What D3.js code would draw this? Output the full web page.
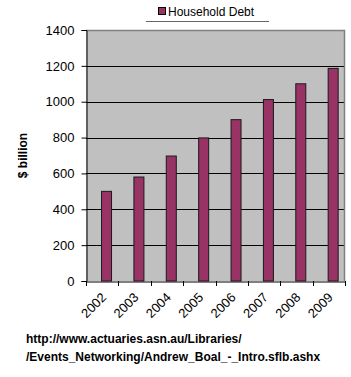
<!DOCTYPE html>
<html>
<head>
<meta charset="utf-8">
<script src="https://cdn.jsdelivr.net/npm/d3@7"></script>
<style>
  body { margin: 0; background: #fff; }
  svg { display: block; font-family: "Liberation Sans", Arial, sans-serif; }
</style>
</head>
<body>
<div id="chart"></div>
<script>
const years = ["2002", "2003", "2004", "2005", "2006", "2007", "2008", "2009"];
const householdDebt = [500, 580, 697, 798, 900, 1012, 1100, 1186];
const yTicks = [0, 200, 400, 600, 800, 1000, 1200, 1400];
const seriesName = "Household Debt";
const sourceLines = [
    "http://www.actuaries.asn.au/Libraries/",
    "/Events_Networking/Andrew_Boal_-_Intro.sflb.ashx"
];

const width = 351, height = 377;
const margin = { top: 30, right: 6, bottom: 96, left: 86 };

const svg = d3.select('#chart').append('svg')
    .attr('width', width)
    .attr('height', height);

const x = d3.scaleBand()
    .domain(years)
    .range([margin.left, width - margin.right]);

const y = d3.scaleLinear()
    .domain([0, 1400])
    .range([height - margin.bottom, margin.top]);

// fond gris de la zone de tracé
svg.append('rect')
    .attr('x', margin.left)
    .attr('y', margin.top)
    .attr('width', width - margin.right - margin.left)
    .attr('height', y(0) - margin.top)
    .attr('fill', '#c0c0c0');

// lignes de grille
svg.append('g')
    .selectAll('line')
    .data(yTicks.filter(d => d > 0 && d < 1400))
    .join('line')
    .attr('x1', margin.left)
    .attr('x2', width - margin.right)
    .attr('y1', d => Math.round(y(d)) + 0.5)
    .attr('y2', d => Math.round(y(d)) + 0.5)
    .attr('stroke', '#000')
    .attr('stroke-width', 1);

// bordure haut + droite
svg.append('path')
    .attr('d', `M${margin.left},${Math.round(y(1400)) + 0.5}H${width - margin.right - 0.5}V${y(0)}`)
    .attr('fill', 'none')
    .attr('stroke', '#808080')
    .attr('stroke-width', 1.5);

// barres
const barW = 10;
svg.append('g')
    .selectAll('rect')
    .data(years)
    .join('rect')
    .attr('x', d => x(d) + x.bandwidth() * 0.48)
    .attr('y', (d, i) => y(householdDebt[i]))
    .attr('width', barW)
    .attr('height', (d, i) => y(0) - y(householdDebt[i]))
    .attr('fill', '#993366')
    .attr('stroke', '#1a1a1a')
    .attr('stroke-width', 1);

// axe y
const yAxis = svg.append('g')
    .attr('transform', `translate(${margin.left + 0.5},0)`)
    .call(d3.axisLeft(y).tickValues(yTicks).tickFormat(d3.format('d')).tickSize(5).tickPadding(7));
yAxis.select('.domain').attr('stroke', '#000');
yAxis.selectAll('text')
    .style('font-size', '13px')
    .attr('fill', '#000')
    .attr('font-family', null);

// axe x
const xAxis = svg.append('g')
    .attr('transform', `translate(0,${Math.round(y(0)) + 0.5})`)
    .call(d3.axisBottom(x).tickSize(0).tickFormat(''));
xAxis.select('.domain').attr('stroke', '#000');
svg.append('g')
    .selectAll('line')
    .data(years.concat(['end']))
    .join('line')
    .attr('x1', (d, i) => Math.round(margin.left + i * x.bandwidth()) + 0.5)
    .attr('x2', (d, i) => Math.round(margin.left + i * x.bandwidth()) + 0.5)
    .attr('y1', y(0))
    .attr('y2', y(0) + 5)
    .attr('stroke', '#000');

svg.append('g')
    .selectAll('text')
    .data(years)
    .join('text')
    .attr('transform', d => `translate(${x(d) + x.bandwidth() * 0.55},${y(0) + 14}) rotate(-45)`)
    .attr('text-anchor', 'end')
    .attr('dy', '0.35em')
    .style('font-size', '13px')
    .text(d => d);

// titre de l'axe y
svg.append('text')
    .attr('transform', `translate(27,${(y(0) + y(1400)) / 2}) rotate(-90)`)
    .attr('text-anchor', 'middle')
    .style('font-size', '12px')
    .style('font-weight', 'bold')
    .text('$ billion');

// légende
const legend = svg.append('g');
legend.append('rect')
    .attr('x', 158.5)
    .attr('y', 7.5)
    .attr('width', 7)
    .attr('height', 7)
    .attr('fill', '#993366')
    .attr('stroke', '#000');
legend.append('text')
    .attr('x', 168)
    .attr('y', 16)
    .style('font-size', '12px')
    .text(seriesName);
legend.append('line')
    .attr('x1', 146)
    .attr('x2', 269)
    .attr('y1', 21.5)
    .attr('y2', 21.5)
    .attr('stroke', '#666');

// source
svg.append('g')
    .selectAll('text')
    .data(sourceLines)
    .join('text')
    .attr('x', 26)
    .attr('y', (d, i) => 343 + i * 18)
    .style('font-size', '12px')
    .style('font-weight', 'bold')
    .text(d => d);
</script>
</body>
</html>
